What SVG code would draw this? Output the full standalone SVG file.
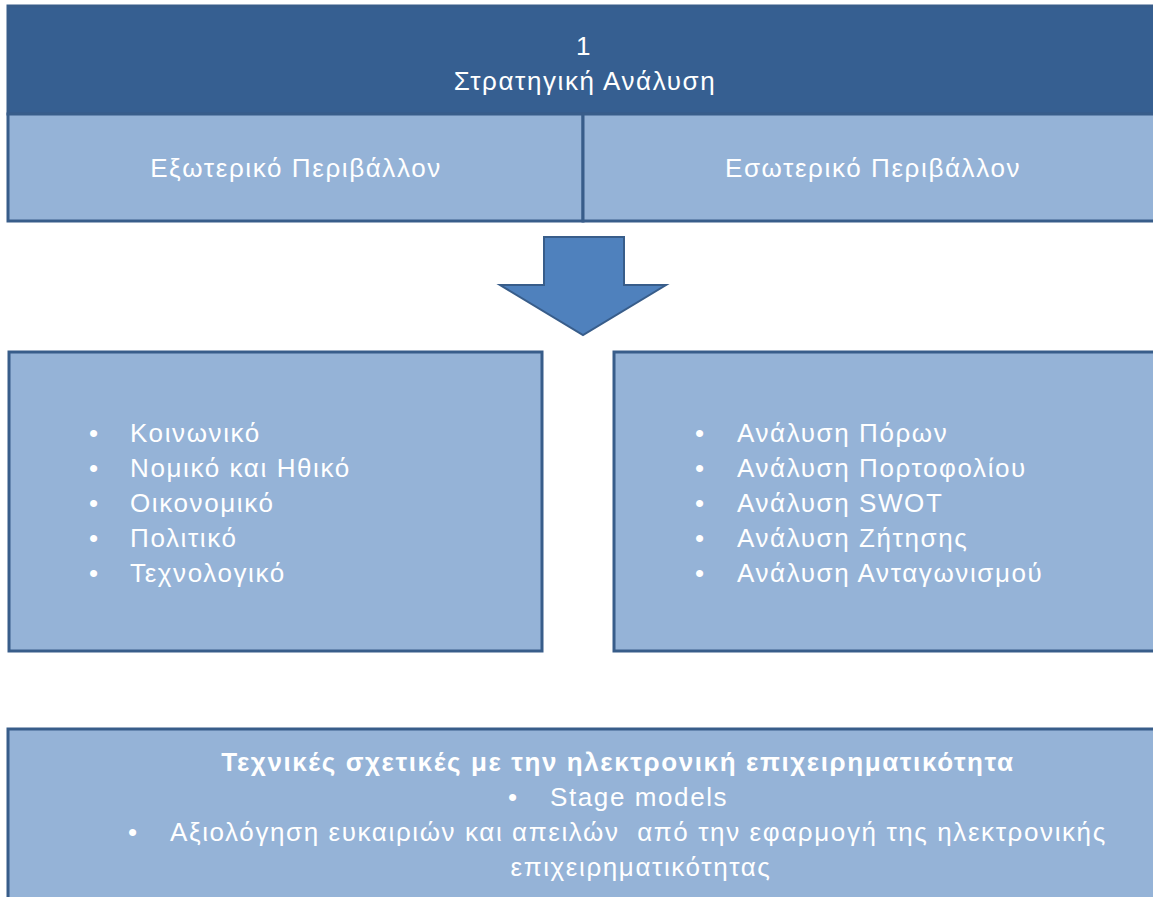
<svg xmlns="http://www.w3.org/2000/svg" width="1153" height="897" viewBox="0 0 1153 897">
  <style>
    .dark { fill: #365F91; stroke: #385D8A; stroke-width: 3; }
    .light { fill: #95B3D7; stroke: #385D8A; stroke-width: 3; }
    .arrow { fill: #4F81BD; stroke: #385D8A; stroke-width: 2; }
    text { font-family: "Liberation Sans", Arial, sans-serif; fill: #FFFFFF; font-size: 26px; letter-spacing: 1.6px; }
    .mid { text-anchor: middle; }
    .bold { font-weight: bold; }
  </style>
  <rect width="1153" height="897" fill="#FFFFFF"/>

  <g id="header">
    <rect class="dark" x="8" y="6" width="1150" height="108"/>
    <text class="mid" x="584" y="55">1</text>
    <text class="mid" x="585" y="90">Στρατηγική Ανάλυση</text>
  </g>

  <g id="external-env">
    <rect class="light" x="8" y="114" width="575" height="107"/>
    <text class="mid" x="296" y="177">Εξωτερικό Περιβάλλον</text>
  </g>

  <g id="internal-env">
    <rect class="light" x="583" y="114" width="575" height="107"/>
    <text class="mid" x="873" y="177">Εσωτερικό Περιβάλλον</text>
  </g>

  <g id="connectors">
    <polygon class="arrow" points="544,237 624,237 624,285 666,285 583,335 500,285 544,285"/>
  </g>

  <g id="external-factors">
    <rect class="light" x="9" y="352" width="533" height="299"/>
    <g>
      <text x="89" y="442">•</text><text x="130" y="442">Κοινωνικό</text>
      <text x="89" y="477">•</text><text x="130" y="477">Νομικό και Ηθικό</text>
      <text x="89" y="512">•</text><text x="130" y="512">Οικονομικό</text>
      <text x="89" y="547">•</text><text x="130" y="547">Πολιτικό</text>
      <text x="89" y="582">•</text><text x="130" y="582">Τεχνολογικό</text>
    </g>
  </g>

  <g id="internal-analyses">
    <rect class="light" x="614" y="352" width="544" height="299"/>
    <g>
      <text x="695" y="442">•</text><text x="737" y="442">Ανάλυση Πόρων</text>
      <text x="695" y="477">•</text><text x="737" y="477">Ανάλυση Πορτοφολίου</text>
      <text x="695" y="512">•</text><text x="737" y="512">Ανάλυση SWOT</text>
      <text x="695" y="547">•</text><text x="737" y="547">Ανάλυση Ζήτησης</text>
      <text x="695" y="582">•</text><text x="737" y="582">Ανάλυση Ανταγωνισμού</text>
    </g>
  </g>

  <g id="ebusiness-techniques">
    <rect class="light" x="8" y="729" width="1150" height="180"/>
    <text class="mid bold" x="618" y="771">Τεχνικές σχετικές με την ηλεκτρονική επιχειρηματικότητα</text>
    <text x="508" y="806">•</text><text x="550" y="806">Stage models</text>
    <text x="128" y="841">•</text><text x="170" y="841">Αξιολόγηση ευκαιριών και απειλών&#160; από την εφαρμογή της ηλεκτρονικής</text>
    <text class="mid" x="641" y="876">επιχειρηματικότητας</text>
  </g>
</svg>
